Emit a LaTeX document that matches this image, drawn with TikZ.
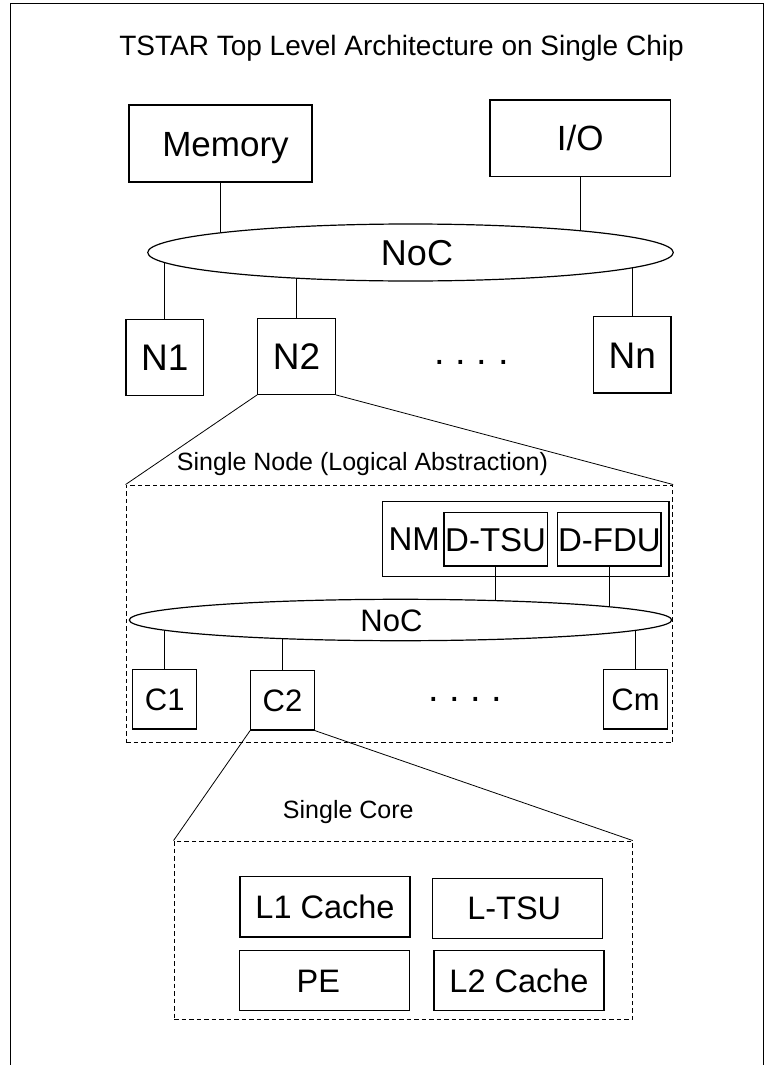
\documentclass[tikz,border=0pt]{standalone}
\usepackage{fontspec}
\setmainfont{Liberation Sans}
\usetikzlibrary{shapes.geometric,backgrounds}
\newcommand\myfs[1]{\fontsize{#1}{#1}\selectfont}
\begin{document}
\begin{tikzpicture}[x=1pt,y=-1pt,
  fbox/.style={draw, line width=1.2pt, inner sep=0pt, rectangle},
  dbox/.style={draw, line width=0.9pt, dash pattern=on 4.5pt off 3pt, inner sep=0pt, rectangle},
  net/.style={draw, fill=white, ellipse, line width=1.2pt, inner sep=0pt},
  wire/.style={line width=1pt},
  zline/.style={line width=0.8pt},
  lbl/.style={inner sep=0pt, anchor=base},
  fa/.style={font=\myfs{35}, text height=25.1pt, text depth=0pt},
  fb/.style={font=\myfs{36}, text height=25.8pt, text depth=0pt},
  fc/.style={font=\myfs{37}, text height=26.5pt, text depth=0pt},
  fd/.style={font=\myfs{33}, text height=23.6pt, text depth=0pt},
  fe/.style={font=\myfs{31}, text height=22.2pt, text depth=0pt},
  ff/.style={font=\myfs{32.5}, text height=23.3pt, text depth=0pt}
]
\useasboundingbox (0,0) rectangle (765,1065);
% outer frame
\draw[line width=1.5pt] (10.7,1065) -- (10.7,3.3) -- (763.5,3.3) -- (763.5,1065);

% title
\node[lbl, font=\myfs{28}] (title) at (401.5,56) {TSTAR Top Level Architecture on Single Chip};

% top level
\node[fbox, minimum width=183pt, minimum height=77pt, fa] (mem) at (220.5,143.5) {\hspace*{10pt}Memory};
\node[fbox, minimum width=180.7pt, minimum height=76.7pt, fa] (io) at (580.3,138.3) {I/O};
\node[net, minimum width=525.6pt, minimum height=57pt, fb] (noc1) at (410.5,252.5) {\hspace*{13pt}NoC};
\node[fbox, minimum width=77.7pt, minimum height=76.4pt, fc] (n1) at (164.85,357.5) {N1};
\node[fbox, minimum width=77.6pt, minimum height=76pt, fc] (n2) at (296.5,356.3) {N2};
\node[fbox, minimum width=77.7pt, minimum height=76.3pt, fc] (nn) at (632.2,354.9) {Nn};
\node[lbl, font=\myfs{38}] (dots1) at (471.7,364) {.\ .\ .\ .};

% single node
\node[lbl, font=\myfs{25}] (snl) at (362.5,470.7) {Single Node (Logical Abstraction)};
\node[dbox, minimum width=546.7pt, minimum height=257.7pt] (sn) at (399.35,613.85) {};
\node[fbox, minimum width=286.3pt, minimum height=75pt] (nm) at (525.85,539.2) {};
\node[lbl, font=\myfs{33}] (nmt) at (414.3,550.7) {NM};
\node[fbox, minimum width=103.3pt, minimum height=53.3pt, fd] (dtsu) at (495.65,539.35) {D-TSU};
\node[fbox, minimum width=103.3pt, minimum height=53.3pt, fd] (dfdu) at (609.35,539.35) {D-FDU};
\node[net, minimum width=542.4pt, minimum height=41.4pt, fe] (noc2) at (400.5,620) {NoC\hspace*{18pt}};
\node[fbox, minimum width=64pt, minimum height=59.7pt, fe] (c1) at (164.7,699.15) {C1};
\node[fbox, minimum width=63.6pt, minimum height=59.7pt, fe] (c2) at (282.5,700.15) {C2};
\node[fbox, minimum width=63.6pt, minimum height=59.7pt, fe] (cm) at (635.5,699.15) {Cm};
\node[lbl, font=\myfs{38}] (dots2) at (465,701.7) {.\ .\ .\ .};

% single core
\node[lbl, font=\myfs{25}] (scl) at (348.3,818.3) {Single Core};
\node[dbox, minimum width=458.3pt, minimum height=178.3pt] (core) at (403.15,930.15) {};
\node[fbox, minimum width=170pt, minimum height=60.3pt, ff] (l1) at (325,906.85) {L1 Cache};
\node[fbox, minimum width=170pt, minimum height=60pt, ff] (ltsu) at (517.7,908.3) {L-TSU\hspace*{7pt}};
\node[fbox, minimum width=170pt, minimum height=60pt, ff] (pe) at (324.3,980.7) {PE\hspace*{12pt}};
\node[fbox, minimum width=170pt, minimum height=60pt, ff] (l2) at (519,980.7) {L2 Cache};

% connectors to the networks
\begin{scope}[on background layer]
\draw[wire] (mem.south) -- (mem.south |- noc1.center);
\draw[wire] (io.south) -- (io.south |- noc1.center);
\draw[wire] (n1.north) -- (n1.north |- noc1.center);
\draw[wire] (n2.north) -- (n2.north |- noc1.center);
\draw[wire] (nn.north) -- (nn.north |- noc1.center);
\draw[wire] (dtsu.south) -- (dtsu.south |- noc2.center);
\draw[wire] (dfdu.south) -- (dfdu.south |- noc2.center);
\draw[wire] (c1.north) -- (c1.north |- noc2.center);
\draw[wire] (c2.north) -- (c2.north |- noc2.center);
\draw[wire] (cm.north) -- (cm.north |- noc2.center);
\end{scope}

% zoom lines
\draw[zline] (n2.south west) -- (sn.north west);
\draw[zline] (n2.south east) -- (sn.north east);
\draw[zline] (c2.south west) -- (core.north west);
\draw[zline] (c2.south east) -- (core.north east);
\end{tikzpicture}
\end{document}
